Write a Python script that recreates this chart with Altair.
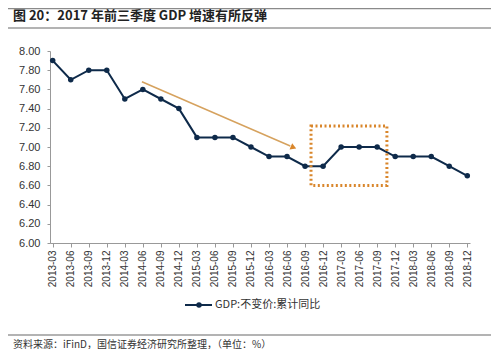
import altair as alt
import pandas as pd

# ---- data ----
quarters = ["2013-03", "2013-06", "2013-09", "2013-12",
            "2014-03", "2014-06", "2014-09", "2014-12",
            "2015-03", "2015-06", "2015-09", "2015-12",
            "2016-03", "2016-06", "2016-09", "2016-12",
            "2017-03", "2017-06", "2017-09", "2017-12",
            "2018-03", "2018-06", "2018-09", "2018-12"]
gdp = [7.9, 7.7, 7.8, 7.8,
       7.5, 7.6, 7.5, 7.4,
       7.1, 7.1, 7.1, 7.0,
       6.9, 6.9, 6.8, 6.8,
       7.0, 7.0, 7.0, 6.9,
       6.9, 6.9, 6.8, 6.7]
series_name = "GDP:不变价:累计同比"
y_ticks = [6.0, 6.2, 6.4, 6.6, 6.8, 7.0, 7.2, 7.4, 7.6, 7.8, 8.0]

title_text = "图 20：2017 年前三季度 GDP 增速有所反弹"
source_text = "资料来源：iFinD，国信证券经济研究所整理，（单位：%）"

# annotation geometry in data units (index along x, value along y)
box = {"x": 14.33, "x2": 18.54, "y": 6.60, "y2": 7.22}
arrow = {"x": 4.95, "y": 7.68, "x2": 13.18, "y2": 7.01}
arrow_head = {"x": 13.36, "y": 6.995}

df = pd.DataFrame({"idx": list(range(len(quarters))), "q": quarters, "v": gdp})

FONT = "Liberation Sans"
CJK = "Noto Sans CJK SC"
NAVY = "#0E2A4A"
ORANGE = "#D9862B"

label_array = "[" + ",".join("'" + q + "'" for q in quarters) + "]"

xscale = alt.Scale(domain=[-0.15, len(quarters) - 1 + 0.15], nice=False, zero=False)
yscale = alt.Scale(domain=[6.0, 8.0], nice=False, zero=False)

x_axis = alt.Axis(values=list(range(len(quarters))),
                  labelExpr=label_array + "[datum.value]",
                  labelAngle=-90, labelFontSize=10, labelColor="#333",
                  labelFont=FONT, labelPadding=3, tickSize=4,
                  labelOverlap=False, labelBound=False, labelFlush=False,
                  tickColor="#999", domainColor="#999", grid=False, title=None)
y_axis = alt.Axis(values=y_ticks, format=".2f", labelFontSize=11,
                  labelColor="#333", labelFont=FONT, tickSize=3,
                  labelOverlap=False, labelBound=False, labelFlush=False,
                  labelPadding=7, tickColor="#999", domainColor="#999",
                  grid=False, title=None)

base = alt.Chart(df)
line = base.mark_line(color=NAVY, strokeWidth=2).encode(
    x=alt.X("idx:Q", scale=xscale, axis=x_axis),
    y=alt.Y("v:Q", scale=yscale, axis=y_axis),
)
pts = base.mark_point(filled=True, color=NAVY, size=30, opacity=1).encode(
    x=alt.X("idx:Q", scale=xscale, axis=x_axis),
    y=alt.Y("v:Q", scale=yscale, axis=y_axis),
)

box_layer = alt.Chart(pd.DataFrame([box])).mark_rect(
    fill=None, fillOpacity=0, stroke=ORANGE, strokeWidth=3, strokeDash=[2, 2.5]
).encode(x=alt.X("x:Q", scale=xscale, axis=x_axis), x2="x2:Q",
         y=alt.Y("y:Q", scale=yscale, axis=y_axis), y2="y2:Q")

arrow_line = alt.Chart(pd.DataFrame([arrow])).mark_rule(
    color="#D6A25E", strokeWidth=1.5
).encode(x=alt.X("x:Q", scale=xscale, axis=x_axis), x2="x2:Q",
         y=alt.Y("y:Q", scale=yscale, axis=y_axis), y2="y2:Q")

arrow_tip = alt.Chart(pd.DataFrame([arrow_head])).mark_point(
    shape="triangle-right", filled=True, color=ORANGE, size=45, angle=23, opacity=1
).encode(x=alt.X("x:Q", scale=xscale, axis=x_axis),
         y=alt.Y("y:Q", scale=yscale, axis=y_axis))

one = pd.DataFrame([{"k": 1}])

def hline(y, x1, x2, color, w):
    return alt.Chart(one).mark_rule(color=color, strokeWidth=w).encode(
        x=alt.value(x1), x2=alt.value(x2), y=alt.value(y))

top_line = hline(-42.5, -42, 441, "#8a8a8a", 1.5)
title_line = hline(-23, -42, 441, "#9a9a9a", 1.5)
src_line = hline(284, -42, 441, "#9a9a9a", 1.5)

title = alt.Chart(one).mark_text(
    align="left", baseline="middle", font=CJK, fontSize=13,
    fontWeight="bold", color="#222"
).encode(x=alt.value(-37), y=alt.value(-35.5), text=alt.value(title_text))

source = alt.Chart(one).mark_text(
    align="left", baseline="middle", font=CJK, fontSize=10, color="#333"
).encode(x=alt.value(-37), y=alt.value(294), text=alt.value(source_text))

leg_line = alt.Chart(one).mark_rule(color=NAVY, strokeWidth=2).encode(
    x=alt.value(135), x2=alt.value(162), y=alt.value(254))
leg_pt = alt.Chart(one).mark_point(filled=True, color=NAVY, size=30, opacity=1).encode(
    x=alt.value(149), y=alt.value(254))
leg_text = alt.Chart(one).mark_text(
    align="left", baseline="middle", font=CJK, fontSize=11, color="#333"
).encode(x=alt.value(165), y=alt.value(254), text=alt.value(series_name))

chart = alt.layer(
    line, pts, box_layer, arrow_line, arrow_tip,
    top_line, title_line, src_line, title, source,
    leg_line, leg_pt, leg_text
).properties(
    width=420, height=192,
    autosize=alt.AutoSizeParams(type="none"),
    padding={"left": 42, "top": 43, "right": 21, "bottom": 106},
).configure_view(stroke=None).configure_axis(labelOverlap=False)

chart.save("out.html", embed_options={"renderer": "svg", "actions": False})
